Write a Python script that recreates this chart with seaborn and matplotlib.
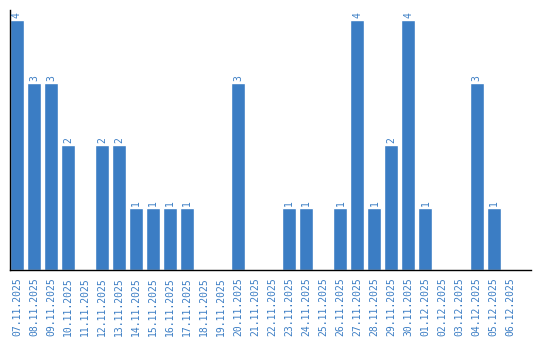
import matplotlib
matplotlib.use("Agg")
import matplotlib.pyplot as plt
import seaborn as sns
import pandas as pd

dates = ["07.11.2025", "08.11.2025", "09.11.2025", "10.11.2025", "11.11.2025",
         "12.11.2025", "13.11.2025", "14.11.2025", "15.11.2025", "16.11.2025",
         "17.11.2025", "18.11.2025", "19.11.2025", "20.11.2025", "21.11.2025",
         "22.11.2025", "23.11.2025", "24.11.2025", "25.11.2025", "26.11.2025",
         "27.11.2025", "28.11.2025", "29.11.2025", "30.11.2025", "01.12.2025",
         "02.12.2025", "03.12.2025", "04.12.2025", "05.12.2025", "06.12.2025"]
counts = [4, 3, 3, 2, 0, 2, 2, 1, 1, 1,
          1, 0, 0, 3, 0, 0, 1, 1, 0, 1,
          4, 1, 2, 4, 1, 0, 0, 3, 1, 0]

df = pd.DataFrame({"date": dates, "count": counts})
blue = "#3b7dc4"

sns.set_style("white")
fig = plt.figure(figsize=(5.4, 3.4), dpi=100)
ax = fig.add_axes([10/540, 70/340, 521/540, 260/340])
sns.barplot(data=df, x="date", y="count", color=blue, width=0.82,
            saturation=1, ax=ax)

for i, v in enumerate(counts):
    if v > 0:
        ax.text(i, v + 0.03, str(v), rotation=90, ha="center", va="bottom",
                color=blue, fontsize=7, family="DejaVu Sans Mono")

ax.set_xlim(-0.41, 30.2)
ax.set_ylim(0, 4.16)
ax.set_yticks([])
ax.set_xlabel("")
ax.set_ylabel("")
ax.tick_params(axis="x", length=0, pad=5)
plt.setp(ax.get_xticklabels(), rotation=90, color=blue, fontsize=7,
         family="DejaVu Sans Mono")
for s in ["top", "right"]:
    ax.spines[s].set_visible(False)
for s in ["left", "bottom"]:
    ax.spines[s].set_color("black")
    ax.spines[s].set_linewidth(1.0)

fig.savefig("out.png", dpi=100)
